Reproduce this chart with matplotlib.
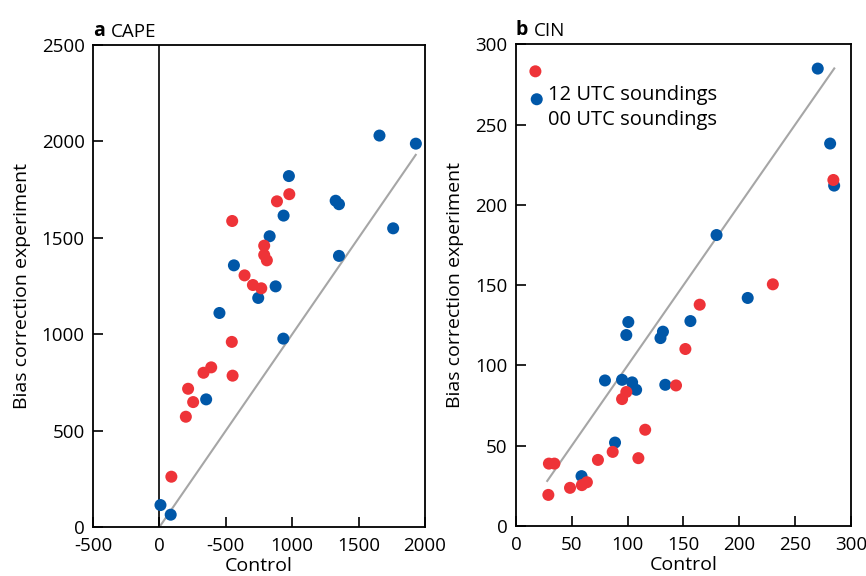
import matplotlib
matplotlib.use("Agg")
import matplotlib.pyplot as plt

plt.rcParams['font.family'] = ['Open Sans', 'DejaVu Sans']
plt.rcParams['axes.unicode_minus'] = False

red = '#ee3338'
blue = '#0057a8'

# panel a: CAPE
cape_blue_x = [1657, 1931, 975, 1327, 1352, 935, 1760, 830, 561, 1352, 875, 744, 452, 933, 352, 8, 85]
cape_blue_y = [2030, 1988, 1820, 1692, 1674, 1615, 1549, 1508, 1357, 1406, 1248, 1188, 1110, 977, 662, 114, 64]
cape_red_x = [978, 885, 548, 789, 789, 809, 641, 704, 767, 545, 551, 390, 332, 216, 254, 199, 90]
cape_red_y = [1726, 1689, 1587, 1459, 1411, 1383, 1305, 1255, 1238, 960, 785, 828, 800, 717, 648, 572, 261]
cape_line = [0, 1930]
cape_xticks = [-500, 0, 500, 1000, 1500, 2000]
cape_xlabels = ['-500', '0', '-500', '1000', '1500', '2000']  # the original prints -500 at 500

# panel b: CIN
cin_blue_x = [270.2, 281.3, 284.9, 179.6, 207.5, 156.2, 100.6, 98.8, 131.6, 129.4, 79.7, 95, 104, 107.6, 133.7, 88.7, 58.7]
cin_blue_y = [284.9, 238.2, 212, 181.2, 142, 127.6, 127, 118.9, 121, 117, 90.6, 91, 89.4, 84.8, 87.9, 51.9, 31]
cin_red_x = [284.2, 230, 164.5, 151.7, 143.3, 98.8, 95, 115.7, 86.6, 73.4, 109.6, 29.5, 34.4, 59, 63.5, 48.4, 29]
cin_red_y = [215.5, 150.5, 137.8, 110.2, 87.5, 83.4, 79, 59.9, 46.1, 41.1, 42.2, 38.8, 38.8, 25.4, 27.2, 23.7, 19.3]
cin_line = [28, 285]

fig = plt.figure(figsize=(8.66, 5.76), dpi=100)
ax1 = fig.add_axes([0.1074, 0.085, 0.3834, 0.837])
ax2 = fig.add_axes([0.5958, 0.087, 0.3869, 0.836])

ms = 75
fs = 14

ax1.axvline(0, color='black', lw=1.2, zorder=1)
ax1.plot(cape_line, cape_line, color='#a6a6a6', lw=1.5, zorder=1)
ax1.scatter(cape_blue_x, cape_blue_y, s=ms, color=blue, edgecolors='none', zorder=3)
ax1.scatter(cape_red_x, cape_red_y, s=ms, color=red, edgecolors='none', zorder=3)
ax1.set_xlim(-500, 2000)
ax1.set_ylim(0, 2500)
ax1.set_xticks(cape_xticks)
ax1.set_xticklabels(cape_xlabels)
ax1.set_yticks([0, 500, 1000, 1500, 2000, 2500])

ax2.plot(cin_line, cin_line, color='#a6a6a6', lw=1.5, zorder=1)
ax2.scatter(cin_blue_x, cin_blue_y, s=ms, color=blue, edgecolors='none', zorder=3)
ax2.scatter(cin_red_x, cin_red_y, s=ms, color=red, edgecolors='none', zorder=3)
ax2.set_xlim(0, 300)
ax2.set_ylim(0, 300)
ax2.set_xticks([0, 50, 100, 150, 200, 250, 300])
ax2.set_yticks([0, 50, 100, 150, 200, 250, 300])

for ax, letter, name in ((ax1, 'a', 'CAPE'), (ax2, 'b', 'CIN')):
    ax.set_xlabel('Control', fontsize=fs, labelpad=1)
    ax.set_ylabel('Bias correction experiment', fontsize=fs, labelpad=8)
    ax.annotate(letter, (0, 1), xycoords='axes fraction', xytext=(0, 3), textcoords='offset points',
                fontsize=fs, fontweight='bold', va='bottom', ha='left')
    ax.annotate(name, (0, 1), xycoords='axes fraction', xytext=(13, 3), textcoords='offset points',
                fontsize=fs - 0.5, va='bottom', ha='left')
    ax.tick_params(direction='in', length=7, width=1.2, labelsize=13.5)
    ax.tick_params(axis='x', pad=7.5)
    ax.tick_params(axis='y', pad=6)
    for sp in ax.spines.values():
        sp.set_linewidth(1.3)

# legend drawn by hand, markers sit a bit above the text lines like the original
ax2.scatter([0.058], [0.944], s=ms, color=red, edgecolors='none', transform=ax2.transAxes, clip_on=False)
ax2.scatter([0.062], [0.886], s=ms, color=blue, edgecolors='none', transform=ax2.transAxes, clip_on=False)
ax2.text(0.095, 0.895, '12 UTC soundings', transform=ax2.transAxes, fontsize=14.5, va='center')
ax2.text(0.095, 0.843, '00 UTC soundings', transform=ax2.transAxes, fontsize=14.5, va='center')

fig.savefig('out.png', dpi=100)
